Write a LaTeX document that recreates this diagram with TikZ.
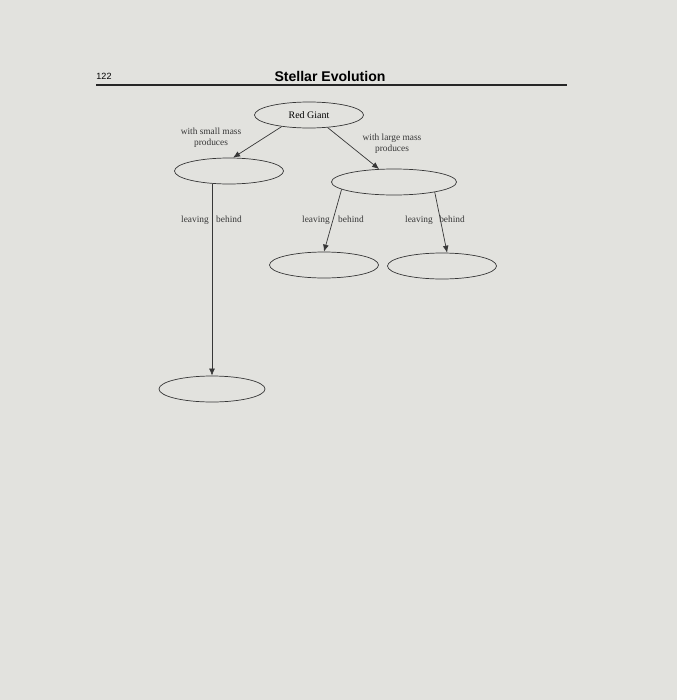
\documentclass[tikz,border=0pt]{standalone}
\usepackage{fontspec}
\setmainfont{Liberation Serif}
\setsansfont{Liberation Sans}
\usetikzlibrary{shapes.geometric,arrows.meta}
\definecolor{paper}{RGB}{226,226,222}
\definecolor{ink}{RGB}{55,55,55}
\tikzset{x=0.03cm, y=-0.03cm,
    oval/.style={ellipse, draw=ink, line width=0.6pt, inner sep=0pt,
        minimum width=3.27cm, minimum height=0.78cm, font=\fontsize{8.5}{10}\selectfont},
    lbl/.style={align=center, text=ink, inner sep=0pt, text height=1.5ex, text depth=.4ex,
        font=\fontsize{8}{9.5}\selectfont},
    arr/.style={draw=ink, line width=0.6pt, -{Latex[length=6pt,width=5pt]}},
    }
\begin{document}
\begin{tikzpicture}
\fill[paper] (0,0) rectangle (677,700);
\useasboundingbox (0,0) rectangle (677,700);
% header
\node[font=\sffamily\fontsize{7.7}{9}\selectfont] (page) at (104,76) {122};
\node[font=\sffamily\bfseries\fontsize{12}{14}\selectfont] (title) at (330,76) {Stellar Evolution};
\draw[line width=1.6pt, black!85] (96,85) -- (567,85);
% ellipses
\node[oval] (rg) at (309,115) {Red Giant};
\node[oval] (small) at (229,171) {};
\node[oval, minimum width=3.75cm] (large) at (394,182) {};
\node[oval, minimum width=3.18cm] (wd) at (212,389) {};
\node[oval] (left) at (324,265) {};
\node[oval] (right) at (442,266) {};
% connectors
\draw[arr] (rg.203) -- (small.73);
\draw[arr] (rg.326) -- (large.139);
\draw[arr] (small.south -| wd.north) -- (wd.north);
\draw[arr] (large.188) -- (left.north);
\draw[arr] (large.346) -- (right.69);
% labels
\node[lbl, text height=, text depth=] (smalltxt) at (211,138) {with small mass\\produces};
\node[lbl, text height=, text depth=] (largetxt) at (392,144) {with large mass\\produces};
\node[lbl] (l1) at (195,220) {leaving};
\node[lbl] (b1) at (229,220) {behind};
\node[lbl] (l2) at (316,220) {leaving};
\node[lbl] (b2) at (351,220) {behind};
\node[lbl] (l3) at (419,220) {leaving};
\node[lbl] (b3) at (452,220) {behind};
\end{tikzpicture}
\end{document}
